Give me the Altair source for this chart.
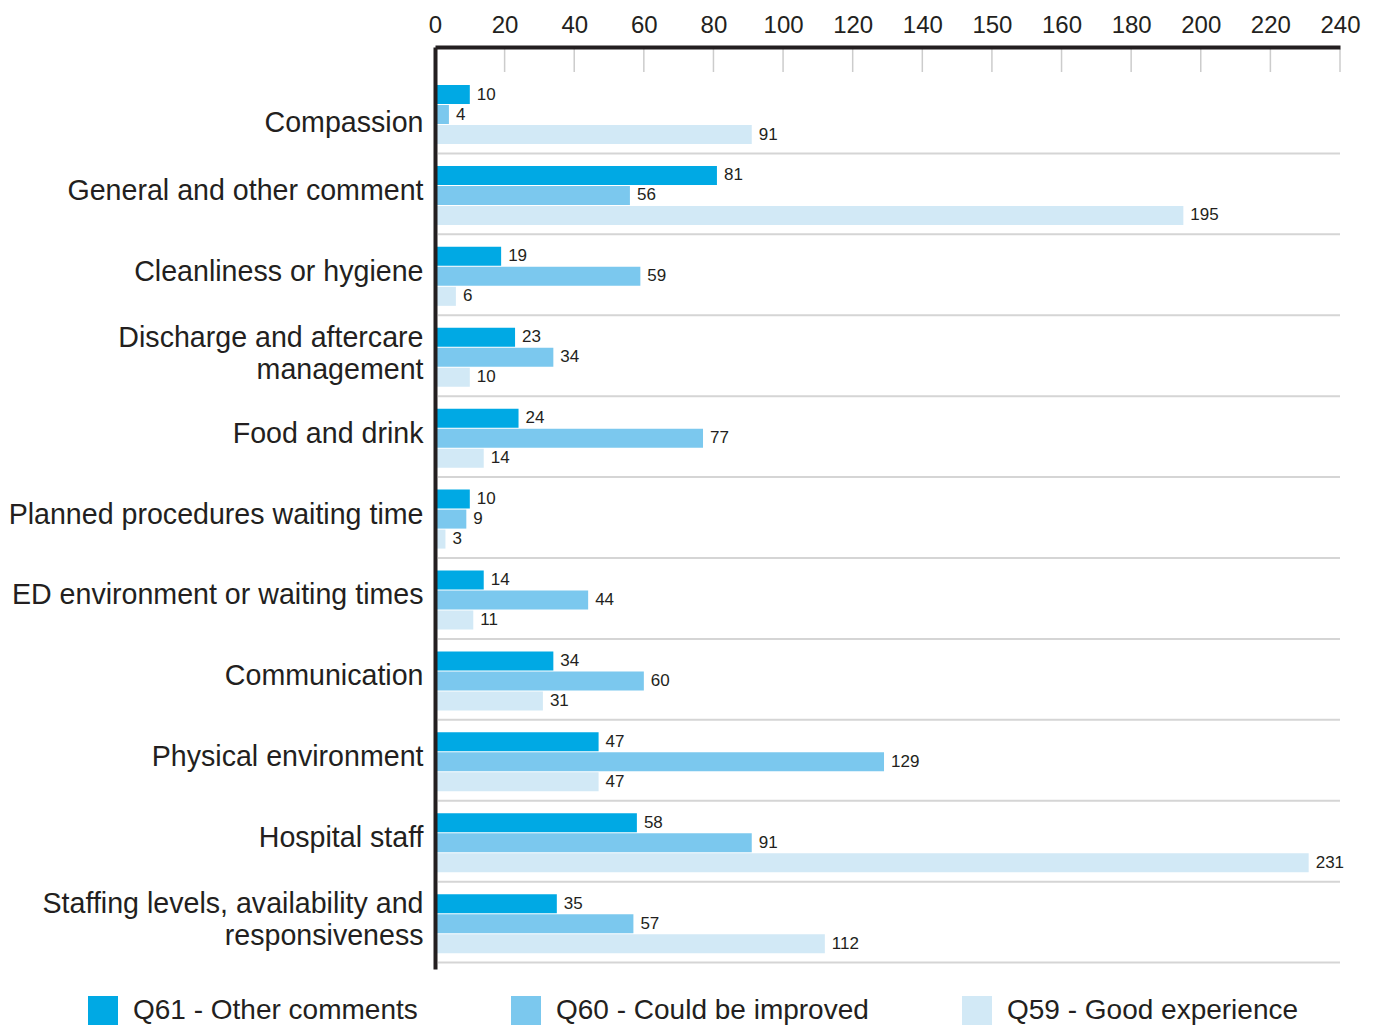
import altair as alt
import pandas as pd

# ---------------- data ----------------
categories = [
    "Compassion",
    "General and other comment",
    "Cleanliness or hygiene",
    "Discharge and aftercare management",
    "Food and drink",
    "Planned procedures waiting time",
    "ED environment or waiting times",
    "Communication",
    "Physical environment",
    "Hospital staff",
    "Staffing levels, availability and responsiveness",
]
series = ["Q61 - Other comments", "Q60 - Could be improved", "Q59 - Good experience"]
q61 = [10, 81, 19, 23, 24, 10, 14, 34, 47, 58, 35]
q60 = [4, 56, 59, 34, 77, 9, 44, 60, 129, 91, 57]
q59 = [91, 195, 6, 10, 14, 3, 11, 31, 47, 231, 112]
colors = ["#00a9e4", "#7bc8ee", "#d2e9f6"]

axis_ticks = [0, 20, 40, 60, 80, 100, 120, 140, 150, 160, 180, 200, 220, 240]
scale_breaks = [0, 140, 150, 160, 240]          # the source axis is piecewise
break_steps = [0, 7, 8, 9, 13]                  # tick-step index of each break
label_lines = {
    "Discharge and aftercare management": ["Discharge and aftercare", "management"],
    "Staffing levels, availability and responsiveness": ["Staffing levels, availability and", "responsiveness"],
}

# ---------------- build ----------------
W, H = 905, 922
step = W / 13
break_px = [b * step for b in break_steps]

rows = []
for i, c in enumerate(categories):
    for s, vals in zip(series, [q61, q60, q59]):
        rows.append({"category": c, "series": s, "value": vals[i]})
df = pd.DataFrame(rows)
cat_df = pd.DataFrame({"category": categories})
tick_df = pd.DataFrame({"tick": [t for t in axis_ticks if t > 0]})

TXT = "#231f20"
FONT = "Liberation Sans"

expr = "datum.label"
for k, v in label_lines.items():
    arr = "[" + ", ".join("'" + s + "'" for s in v) + "]"
    expr = f"datum.label == '{k}' ? {arr} : ({expr})"

multi_test = " || ".join(f"datum.value == '{k}'" for k in label_lines)
label_offset = {
    "condition": [
        {"test": "datum.value == 'Compassion'", "value": 10},
        {"test": multi_test, "value": -18},
    ],
    "value": -3,
}

x_scale = alt.Scale(domain=scale_breaks, range=break_px, nice=False)
y_scale = alt.Scale(domain=categories, paddingInner=0, paddingOuter=0.197, align=0.8)
yoff_scale = alt.Scale(domain=series, paddingInner=0.05, paddingOuter=0.548, align=0.57)

x_axis = alt.Axis(
    orient="top", values=axis_ticks, format="d", title=None, grid=False,
    ticks=False, tickSize=0, domainWidth=4, domainColor=TXT,
    labelFontSize=24, labelFont=FONT, labelColor=TXT, labelPadding=10,
    labelFlush=False, labelOverlap=False, zindex=1,
)
y_axis = alt.Axis(
    title=None, ticks=False, tickSize=0, domainWidth=4, domainColor=TXT,
    labelFontSize=28.6, labelFont=FONT, labelColor=TXT, labelPadding=12,
    labelLimit=700, labelExpr=expr, labelLineHeight=32, labelOffset=label_offset,
    labelBaseline="middle", zindex=1,
)

bars = alt.Chart(df).mark_bar().encode(
    x=alt.X("value:Q", scale=x_scale, axis=x_axis),
    y=alt.Y("category:N", scale=y_scale, axis=y_axis, sort=categories),
    yOffset=alt.YOffset("series:N", scale=yoff_scale, sort=series),
    color=alt.Color(
        "series:N",
        scale=alt.Scale(domain=series, range=colors),
        sort=series,
        legend=alt.Legend(
            title=None, orient="none", legendX=-347, legendY=949,
            direction="horizontal", columns=3, symbolType="square",
            symbolSize=900, symbolStrokeWidth=0, symbolOpacity=1,
            labelFontSize=28, labelFont=FONT, labelColor=TXT,
            labelOffset=15, columnPadding=93, labelLimit=500, padding=0,
        ),
    ),
)

labels = alt.Chart(df).mark_text(
    align="left", baseline="middle", dx=7, fontSize=17, font=FONT, color=TXT
).encode(
    x=alt.X("value:Q", scale=x_scale),
    y=alt.Y("category:N", scale=y_scale, sort=categories),
    yOffset=alt.YOffset("series:N", scale=yoff_scale, sort=series),
    text=alt.Text("value:Q", format="d"),
)

separators = alt.Chart(cat_df).mark_rule(color="#d5d5d5", strokeWidth=2).encode(
    y=alt.Y("category:N", scale=y_scale, sort=categories, bandPosition=1),
    x=alt.value(3),
    x2=alt.value(W),
)

ticks = alt.Chart(tick_df).mark_rule(color="#cccccc", strokeWidth=1.5).encode(
    x=alt.X("tick:Q", scale=x_scale),
    y=alt.value(2),
    y2=alt.value(25),
)

chart = alt.layer(separators, ticks, bars, labels).properties(
    width=W, height=H,
    autosize=alt.AutoSizeParams(type="none"),
    padding={"left": 435, "top": 47, "right": 36, "bottom": 56},
    background="white",
).configure_view(stroke="transparent")

chart.save("out.html", embed_options={"renderer": "svg", "actions": False})
